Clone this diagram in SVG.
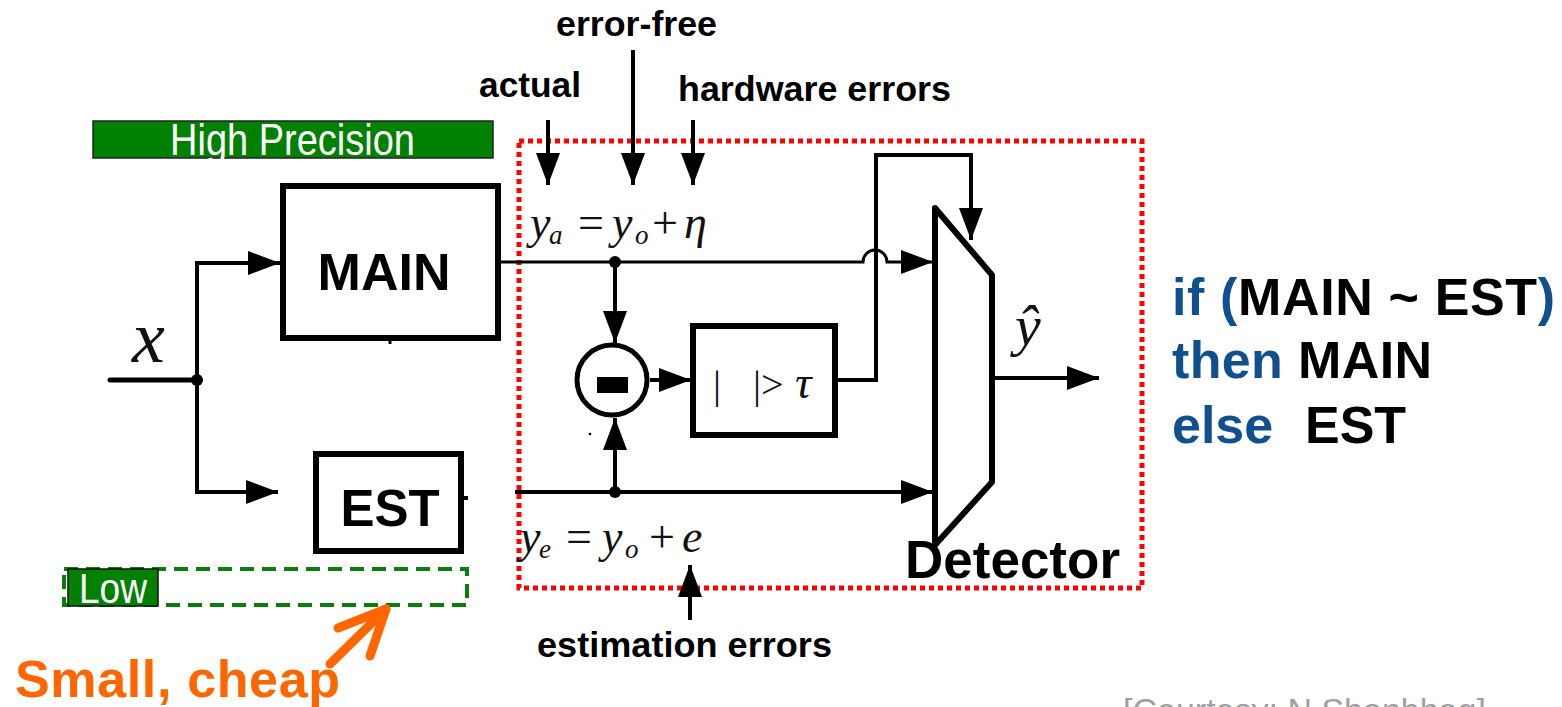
<svg xmlns="http://www.w3.org/2000/svg" width="1562" height="707" viewBox="0 0 1562 707">
<style>
.b{font-family:"Liberation Sans",Arial,sans-serif;font-weight:bold}
.lbl{font-size:35px;fill:#000}
.m{font-family:"Liberation Serif","Times New Roman",serif;font-style:italic;fill:#111}
.f{font-family:"Liberation Serif","Times New Roman",serif;font-size:46px;fill:#111}
.i{font-style:italic}
.s{font-style:italic;font-size:27px}
.box{fill:#fff;stroke:#000;stroke-width:6}
.w{fill:none;stroke:#000;stroke-width:4}
.blue{fill:#11508f}
</style>
<defs>
<marker id="ah" markerUnits="userSpaceOnUse" markerWidth="32" markerHeight="24" refX="32" refY="12" orient="auto">
<path d="M0,0 L32,12 L0,24 z" fill="#000"/>
</marker>
</defs>
<rect width="1562" height="707" fill="#fff"/>

<g id="high-precision">
<rect x="93" y="121" width="400" height="37" fill="#008000" stroke="#222" stroke-width="1.5"/>
<text x="170" y="155" font-family="Liberation Sans,Arial,sans-serif" font-size="44" fill="#fff" textLength="245" lengthAdjust="spacingAndGlyphs">High Precision</text>
</g>

<g id="low">
<rect x="64" y="569" width="403" height="36" fill="none" stroke="#0a7d0a" stroke-width="4" stroke-dasharray="14 8"/>
<rect x="68" y="569" width="90" height="37" fill="#008000" stroke="#111" stroke-width="1.5"/>
<text x="79" y="603" font-family="Liberation Sans,Arial,sans-serif" font-size="42" fill="#fff" textLength="68" lengthAdjust="spacingAndGlyphs">Low</text>
</g>

<g id="detector-region">
<rect x="519" y="141" width="623" height="447" fill="none" stroke="#f00" stroke-width="5" stroke-dasharray="5 4"/>
</g>

<g id="connectors">
<line x1="110" y1="380" x2="197" y2="380" stroke="#000" stroke-width="5" stroke-linecap="round"/>
<circle cx="197" cy="380" r="6" fill="#000"/>
<polyline class="w" points="197,492 197,263 280,263" marker-end="url(#ah)"/>
<polyline class="w" points="197,380 197,492 278,492" marker-end="url(#ah)"/>
<line x1="390" y1="338" x2="390" y2="344" stroke="#000" stroke-width="3"/>
<line x1="461" y1="498" x2="468" y2="498" stroke="#000" stroke-width="4"/>
<path d="M501,262 L863,262 A12,12 0 0 1 887,262 L933,262" fill="none" stroke="#000" stroke-width="3" marker-end="url(#ah)"/>
<circle cx="615" cy="262" r="6" fill="#000"/>
<line x1="615" y1="262" x2="615" y2="343" stroke="#000" stroke-width="4" marker-end="url(#ah)"/>
<line x1="515" y1="492" x2="933" y2="492" stroke="#000" stroke-width="4" marker-end="url(#ah)"/>
<circle cx="615" cy="492" r="6" fill="#000"/>
<line x1="615" y1="492" x2="615" y2="418" stroke="#000" stroke-width="4" marker-end="url(#ah)"/>
<line x1="650" y1="380" x2="691" y2="380" stroke="#000" stroke-width="4" marker-end="url(#ah)"/>
<polyline class="w" points="838,380 876,380 876,155 971,155 971,240" marker-end="url(#ah)"/>
<line x1="992" y1="378" x2="1099" y2="378" stroke="#000" stroke-width="4" marker-end="url(#ah)"/>
<line x1="548" y1="120" x2="548" y2="185" stroke="#000" stroke-width="4" marker-end="url(#ah)"/>
<line x1="633" y1="50" x2="633" y2="185" stroke="#000" stroke-width="4" marker-end="url(#ah)"/>
<line x1="693" y1="120" x2="693" y2="185" stroke="#000" stroke-width="4" marker-end="url(#ah)"/>
<line x1="690" y1="620" x2="690" y2="565" stroke="#000" stroke-width="4" marker-end="url(#ah)"/>
<g stroke="#ff6600" stroke-width="9" stroke-linecap="round" fill="none">
<line x1="330" y1="664" x2="386" y2="609"/>
<polyline points="338,628 386,609 370,656" stroke-linejoin="round"/>
</g>
</g>

<g id="main">
<rect class="box" x="283" y="186" width="215" height="152"/>
<text class="b" x="384" y="290" font-size="52" text-anchor="middle">MAIN</text>
</g>

<g id="est">
<rect class="box" x="316" y="454" width="145" height="97"/>
<text class="b" x="390" y="526" font-size="51" text-anchor="middle">EST</text>
</g>

<g id="subtractor">
<circle cx="612" cy="380" r="35" fill="#fff" stroke="#000" stroke-width="5"/>
<rect x="597" y="377" width="31" height="16" fill="#000"/>
<circle cx="590" cy="434" r="1.3" fill="#000"/>
</g>

<g id="threshold">
<rect class="box" x="693" y="326" width="142" height="109"/>
<text x="713" y="398" font-family="Liberation Serif,serif" font-size="40" fill="#111">|</text>
<text x="753" y="398" font-family="Liberation Serif,serif" font-size="40" fill="#111">|&gt;</text>
<text class="m" x="795" y="398" font-size="46">τ</text>
</g>

<g id="mux">
<polygon points="935,208 992,275 992,482 935,545" fill="#fff" stroke="#000" stroke-width="6" stroke-linejoin="round"/>
<text class="b" x="905" y="578" font-size="53">Detector</text>
</g>

<g id="labels">
<text class="m" x="132" y="362" font-size="74">x</text>
<text class="m" x="1015" y="345" font-size="58">ŷ</text>
<text class="b lbl" x="556" y="36" textLength="161" lengthAdjust="spacingAndGlyphs">error-free</text>
<text class="b lbl" x="479" y="97" textLength="102" lengthAdjust="spacingAndGlyphs">actual</text>
<text class="b lbl" x="678" y="101" textLength="273" lengthAdjust="spacingAndGlyphs">hardware errors</text>
<text class="b lbl" x="537" y="657" textLength="295" lengthAdjust="spacingAndGlyphs">estimation errors</text>
<text class="f" y="238"><tspan class="i" x="530">y</tspan><tspan class="s" x="549" dy="6">a</tspan><tspan x="578" dy="-6">=</tspan><tspan class="i" x="612">y</tspan><tspan class="s" x="635" dy="6">o</tspan><tspan x="652" dy="-6">+</tspan><tspan class="i" x="684">η</tspan></text>
<text class="f" y="552"><tspan class="i" x="520">y</tspan><tspan class="s" x="539" dy="6">e</tspan><tspan x="566" dy="-6">=</tspan><tspan class="i" x="602">y</tspan><tspan class="s" x="625" dy="6">o</tspan><tspan x="649" dy="-6">+</tspan><tspan class="i" x="682">e</tspan></text>
<text class="b" x="1172" y="315" font-size="52" textLength="383" lengthAdjust="spacing"><tspan class="blue">if (</tspan>MAIN ~ EST<tspan class="blue">)</tspan></text>
<text class="b" x="1172" y="378" font-size="52" textLength="260" lengthAdjust="spacing"><tspan class="blue">then </tspan>MAIN</text>
<text class="b" y="443" font-size="52"><tspan class="blue" x="1172">else</tspan><tspan x="1305">EST</tspan></text>
<text class="b" x="15" y="697" font-size="52" fill="#ff6600" textLength="325" lengthAdjust="spacing">Small, cheap</text>
<text x="1123" y="722" font-family="Liberation Sans,Arial,sans-serif" font-size="34" fill="#a0a0a0">[Courtesy: N.Shanbhag]</text>
</g>
</svg>
